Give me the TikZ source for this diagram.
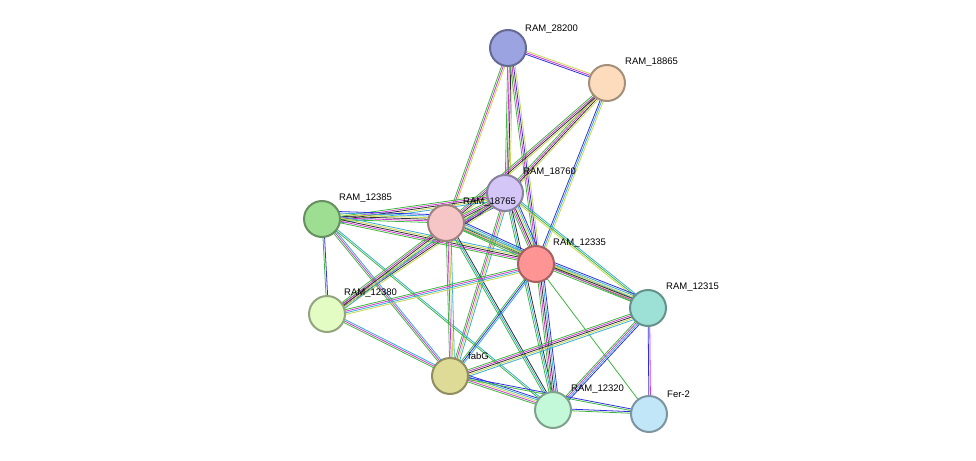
\documentclass[tikz,border=0pt]{standalone}
\usepackage{fontspec}
\setmainfont{Liberation Sans}
\usetikzlibrary{calc}
\definecolor{eg}{HTML}{3DB83D}\definecolor{em}{HTML}{D03AD0}\definecolor{ey}{HTML}{C8D850}
\definecolor{ec}{HTML}{3AAAD8}\definecolor{eb}{HTML}{3030E0}\definecolor{ek}{HTML}{303030}
\definecolor{nA}{HTML}{9BA4E0}\definecolor{nB}{HTML}{FDDCBE}\definecolor{nC}{HTML}{D4C6F6}
\definecolor{nD}{HTML}{9EDE93}\definecolor{nE}{HTML}{F6C6C6}\definecolor{nF}{HTML}{FF9494}
\definecolor{nG}{HTML}{9CE0D6}\definecolor{nH}{HTML}{E3FCC4}\definecolor{nI}{HTML}{DEDB96}
\definecolor{nJ}{HTML}{C3F9D8}\definecolor{nK}{HTML}{C0E6F8}
\newcommand{\edg}[3]{\foreach \c [count=\i] in {#3}{\pgfmathsetmacro{\o}{(\i-1)*1.6}
 \draw[\c,line width=0.8pt] ($(#1)!\o pt!90:(#2)$) -- ($(#2)!\o pt!-90:(#1)$);}}
\tikzset{nd/.style={circle,minimum size=36pt,inner sep=0pt,line width=2pt,fill=#1,draw=#1!65!black},
lb/.style={font=\fontsize{9.5}{10}\selectfont,anchor=south west,inner sep=1pt}}
\begin{document}
\begin{tikzpicture}[x=1pt,y=-1pt]
\useasboundingbox (0,0) rectangle (976,460);
\coordinate (a) at (508,48);\coordinate (b) at (607,83);\coordinate (c) at (505,193);
\coordinate (d) at (322,219);\coordinate (e) at (446,223);\coordinate (f) at (536,264);
\coordinate (g) at (648,308);\coordinate (h) at (327,314);\coordinate (i) at (450,376);
\coordinate (j) at (553,410);\coordinate (k) at (649,414);
\edg{a}{b}{eb,em,ey}
\edg{a}{c}{eg,em,ek,ey}\edg{a}{e}{eg,em,ey}\edg{a}{f}{eg,em,eb,ey}
\edg{b}{c}{eg,em,ek,ey}\edg{b}{e}{eg,em,ek,ey}\edg{b}{f}{eb,ec,ey}
\edg{c}{d}{eg,em,ek,ey,ec}\edg{c}{e}{eg,em,ek,ey,ec,eb}\edg{c}{f}{eg,em,ek,ey,ec,eb}\edg{c}{g}{ey,eg,ec}
\edg{c}{h}{eg,em,ek,ey}\edg{c}{i}{eg,em,ey,ec}\edg{c}{j}{eg,ec,ek}
\edg{d}{e}{eg,em,ek,ey,ec,eb}\edg{d}{f}{eg,em,ek,ey,ec}\edg{d}{h}{eg,eb}\edg{d}{i}{eg,em,ec}\edg{d}{j}{eg,ec}
\edg{e}{f}{eg,em,ek,ey,ec,eb}\edg{e}{h}{eg,em,ek,ey,ec}\edg{e}{i}{eg,em,ey,ec}\edg{e}{j}{eg,ec,ek}\edg{e}{g}{eg,ey,ec}
\edg{f}{h}{eg,em,ec,ey}\edg{f}{i}{eg,eb,ec}\edg{f}{g}{eg,em,ek,ey,ec,eb}\edg{f}{j}{eg,em,ek,ec,eb}\edg{f}{k}{eg}
\edg{g}{i}{eg,em,ek,ey,ec}\edg{g}{j}{eg,em,ec,eb}\edg{g}{k}{eb,em}
\edg{h}{i}{eg,em,ec}
\edg{i}{j}{eg,em,ey,ec,eb}\edg{i}{k}{eg,eb}\edg{j}{k}{eg,eb}
\node[nd=nA] (A) at (a) {};\node[lb] at (524,35) {RAM\_28200};
\node[nd=nB] (B) at (b) {};\node[lb] at (624,68) {RAM\_18865};
\node[nd=nC] (C) at (c) {};\node[lb] at (522,178) {RAM\_18760};
\node[nd=nD] (D) at (d) {};\node[lb] at (338,204) {RAM\_12385};
\node[nd=nE] (E) at (e) {};\node[lb] at (462,208) {RAM\_18765};
\node[nd=nF] (F) at (f) {};\node[lb] at (552,249) {RAM\_12335};
\node[nd=nG] (G) at (g) {};\node[lb] at (665,293) {RAM\_12315};
\node[nd=nH] (H) at (h) {};\node[lb] at (343,299) {RAM\_12380};
\node[nd=nI] (I) at (i) {};\node[lb] at (467,361) {fabG};
\node[nd=nJ] (J) at (j) {};\node[lb] at (570,395) {RAM\_12320};
\node[nd=nK] (K) at (k) {};\node[lb] at (666,399) {Fer-2};
\end{tikzpicture}
\end{document}
